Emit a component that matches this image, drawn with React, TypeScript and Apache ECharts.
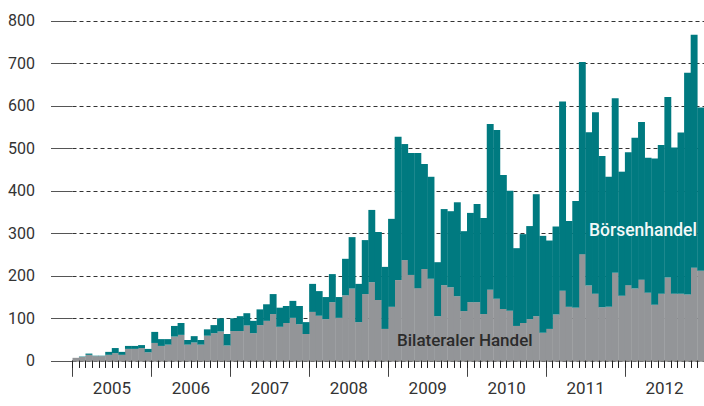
import React, { useEffect, useRef } from "react";
import * as echarts from "echarts";

// Monthly values, Jan 2005 – Dec 2012 (totals = top of stacked bar)
const years = [2005, 2006, 2007, 2008, 2009, 2010, 2011, 2012];

const totals2005 = [7, 10, 17, 12, 12, 21, 30, 21, 35, 35, 37, 28];
const totals2006 = [68, 51, 51, 82, 89, 49, 58, 49, 74, 84, 100, 63];
const totals2007 = [100, 105, 112, 94, 121, 133, 157, 125, 129, 141, 129, 91];
const totals2008 = [181, 164, 150, 204, 150, 240, 291, 181, 284, 355, 303, 221];
const totals2009 = [334, 527, 510, 489, 489, 463, 433, 232, 357, 352, 373, 305];
const totals2010 = [348, 369, 336, 557, 543, 437, 400, 265, 298, 317, 392, 294];
const totals2011 = [283, 316, 610, 329, 376, 703, 538, 585, 482, 433, 618, 445];
const totals2012 = [491, 525, 562, 478, 476, 508, 621, 502, 537, 678, 767, 596];

// Bilateraler Handel (grey, bottom)
const bilateral2005 = [7, 9, 14, 11, 11, 14, 18, 14, 28, 28, 30, 20];
const bilateral2006 = [42, 35, 38, 57, 61, 38, 43, 38, 59, 65, 69, 36];
const bilateral2007 = [70, 70, 83, 65, 84, 94, 110, 80, 89, 101, 86, 63];
const bilateral2008 = [115, 106, 98, 138, 101, 154, 170, 91, 157, 185, 143, 75];
const bilateral2009 = [127, 190, 237, 202, 171, 216, 193, 105, 178, 173, 152, 117];
const bilateral2010 = [138, 138, 110, 167, 146, 122, 118, 82, 89, 98, 105, 66];
const bilateral2011 = [75, 109, 165, 127, 125, 251, 177, 158, 126, 127, 207, 153];
const bilateral2012 = [178, 170, 191, 160, 132, 158, 196, 158, 158, 156, 219, 212];

const yTicks = [0, 100, 200, 300, 400, 500, 600, 700, 800];

const totals = [
  ...totals2005, ...totals2006, ...totals2007, ...totals2008,
  ...totals2009, ...totals2010, ...totals2011, ...totals2012,
];
const bilateral = [
  ...bilateral2005, ...bilateral2006, ...bilateral2007, ...bilateral2008,
  ...bilateral2009, ...bilateral2010, ...bilateral2011, ...bilateral2012,
];
const exchange = totals.map((t, i) => Math.max(0, t - bilateral[i]));

// month categories (bands) and month boundaries (points)
const months = totals.map((_, i) => `${years[Math.floor(i / 12)]}-${(i % 12) + 1}`);
const boundaries = Array.from({ length: months.length + 1 }, (_, k) =>
  k % 12 === 6 ? String(years[Math.floor(k / 12)]) : `b${k}`
);

const TEAL = "#007a80";
const GREY = "#939598";
const FONT = "Roboto";

export default function App() {
  const ref = useRef<HTMLDivElement>(null);

  useEffect(() => {
    if (!ref.current) return;
    const chart = echarts.init(ref.current, undefined, { renderer: "svg" });
    chart.setOption({
      animation: false,
      backgroundColor: "#ffffff",
      grid: { left: 72.5, right: -4.5, top: 20.8, bottom: 45.2, containLabel: false },
      xAxis: [
        {
          type: "category",
          data: months,
          boundaryGap: true,
          z: 3,
          axisLine: { show: true, onZero: false, lineStyle: { color: "#8a8a8a", width: 1.5 } },
          axisTick: {
            show: true,
            length: 7,
            interval: 0,
            lineStyle: { color: "#222", width: 1 },
          },
          axisLabel: { show: false },
          splitLine: { show: false },
        },
        {
          type: "category",
          data: boundaries,
          boundaryGap: false,
          position: "bottom",
          axisLine: { show: false },
          axisTick: {
            show: true,
            length: 16,
            interval: (k: number) => k % 12 === 0,
            lineStyle: { color: "#444", width: 1 },
          },
          axisLabel: {
            show: true,
            margin: 19,
            interval: (k: number) => k % 12 === 6,
            formatter: (v: string) => (v.startsWith("b") ? "" : v),
            color: "#333",
            fontFamily: FONT,
            fontSize: 17,
          },
          splitLine: { show: false },
        },
        {
          type: "value",
          min: 0,
          max: months.length,
          interval: 1,
          position: "bottom",
          z: 3,
          axisLine: { show: false },
          axisTick: {
            show: true,
            length: 7,
            lineStyle: { color: "#222", width: 1 },
          },
          axisLabel: { show: false },
          splitLine: { show: false },
        },
      ],
      yAxis: {
        type: "value",
        min: yTicks[0],
        max: yTicks[yTicks.length - 1],
        interval: 100,
        axisLine: { show: false },
        axisTick: { show: true, length: 21.5, lineStyle: { color: "#555", width: 1 } },
        axisLabel: {
          margin: 37.5,
          color: "#333",
          fontFamily: FONT,
          fontSize: 16,
        },
        splitLine: { show: true, lineStyle: { color: "#333", width: 1, type: [4, 3] } },
      },
      series: [
        {
          name: "Bilateraler Handel",
          type: "bar",
          stack: "total",
          xAxisIndex: 0,
          barWidth: 6.9,
          itemStyle: { color: GREY },
          data: bilateral,
        },
        {
          name: "Börsenhandel",
          type: "bar",
          stack: "total",
          xAxisIndex: 0,
          barWidth: 6.9,
          itemStyle: { color: TEAL },
          data: exchange,
        },
      ],
      graphic: [
        {
          type: "text",
          left: 589,
          top: 221,
          z: 100,
          silent: true,
          style: {
            text: "Börsenhandel",
            fill: "#f2f8f8",
            fontFamily: FONT,
            fontSize: 17.5,
            fontWeight: 500,
          },
        },
        {
          type: "text",
          left: 397,
          top: 331,
          z: 100,
          silent: true,
          style: {
            text: "Bilateraler Handel",
            fill: "#2b2b2b",
            fontFamily: FONT,
            fontSize: 17,
            fontWeight: 500,
          },
        },
      ],
    });
    return () => chart.dispose();
  }, []);

  return (
    <div
      ref={ref}
      style={{
        position: "fixed",
        left: 0,
        top: 0,
        width: 704,
        height: 406,
        overflow: "hidden",
        background: "#fff",
      }}
    />
  );
}
